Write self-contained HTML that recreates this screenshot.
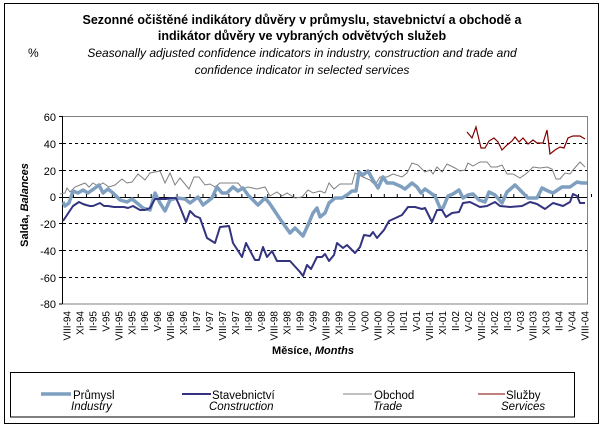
<!DOCTYPE html>
<html><head><meta charset="utf-8"><style>
html,body{margin:0;padding:0;background:#fff;width:604px;height:429px;overflow:hidden}
svg{display:block}
text{font-family:"Liberation Sans",Arial,sans-serif}
</style></head><body>
<svg width="604" height="429" viewBox="0 0 604 429" xmlns="http://www.w3.org/2000/svg">
<rect x="4.5" y="3.5" width="594" height="420" fill="#fff" stroke="#000" stroke-width="1"/>
<text x="302" y="24" text-anchor="middle" font-size="12.5" font-weight="bold">Sezonné očištěné indikátory důvěry v průmyslu, stavebnictví a obchodě a</text>
<text x="302" y="40" text-anchor="middle" font-size="12.5" font-weight="bold">indikátor důvěry ve vybraných odvětvých služeb</text>
<text x="28" y="57" font-size="12">%</text>
<text x="302" y="57" text-anchor="middle" font-size="12" font-style="italic">Seasonally adjusted confidence indicators in industry, construction and trade and</text>
<text x="302" y="74" text-anchor="middle" font-size="12" font-style="italic">confidence indicator in selected services</text>
<rect x="62.5" y="116.5" width="525" height="187.5" fill="none" stroke="#808080"/>
<g stroke="#000" stroke-dasharray="3,3" stroke-width="1">
<line x1="63" x2="587" y1="143.5" y2="143.5"/><line x1="63" x2="587" y1="170.5" y2="170.5"/>
<line x1="63" x2="587" y1="223.5" y2="223.5"/><line x1="63" x2="587" y1="250.5" y2="250.5"/><line x1="63" x2="587" y1="277.5" y2="277.5"/>
</g>
<line x1="62" x2="587" y1="197.5" y2="197.5" stroke="#000"/>
<line x1="62.5" x2="62.5" y1="116" y2="304" stroke="#000"/>
<g stroke="#000"><line x1="59" x2="62" y1="116.5" y2="116.5"/><line x1="59" x2="62" y1="143.5" y2="143.5"/><line x1="59" x2="62" y1="170.5" y2="170.5"/><line x1="59" x2="62" y1="197.5" y2="197.5"/><line x1="59" x2="62" y1="223.5" y2="223.5"/><line x1="59" x2="62" y1="250.5" y2="250.5"/><line x1="59" x2="62" y1="277.5" y2="277.5"/><line x1="59" x2="62" y1="304" y2="304"/></g>
<g font-size="11" text-anchor="end">
<text x="56" y="121">60</text><text x="56" y="148">40</text><text x="56" y="175">20</text><text x="56" y="201">0</text>
<text x="56" y="228">-20</text><text x="56" y="255">-40</text><text x="56" y="282">-60</text><text x="56" y="308">-80</text>
</g>
<text transform="translate(28,205) rotate(-90)" text-anchor="middle" font-size="11" font-weight="bold">Salda, <tspan font-style="italic">Balances</tspan></text>
<g id="ticks" stroke="#000"></g>
<g id="xl" font-size="10" text-anchor="end"></g>
<text x="313" y="354" text-anchor="middle" font-size="11" font-weight="bold">Měsíce, <tspan font-style="italic">Months</tspan></text>
<polyline fill="none" stroke="#808080" stroke-width="1" points="60,194 65,193 67,188 70,192 75,187 80,185 85,183 89,187 93,183 98,186 103,183 109,187 115,185 122,179 127,183 132,182 138,174 145,180 150,173 160,171 165,183 170,173 175,185 180,178 189,189 194,177 199,177 205,185 210,184 215,187 220,183 233,183 238,183 243,189 248,187 257,189 265,187 270,196 277,192 282,196 287,193 295,198 302,197 308,190 313,193 320,191 325,193 329,183 334,189 340,184 352,184 355,173 363,177 370,180 375,185 380,177 387,177 393,174 402,177 407,173 412,163 418,165 425,172 430,170 433,174 437,167 442,172 447,164 455,168 460,171 465,170 468,163 473,166 480,162 487,162 491,167 497,167 502,165 507,174 513,174 520,178 527,173 533,167 540,168 547,167 552,169 556,179 560,179 565,173 570,174 573,170 580,162 585,167"/>
<polyline fill="none" stroke="#7f9fc0" stroke-width="3.5" stroke-linejoin="round" points="63,202 65,206 69,203 73,191 78,193 83,190 88,193 95,188 99,185 103,193 108,189 113,193 120,200 127,202 132,199 137,203 143,208 150,210 155,193 160,203 165,211 170,200 177,198 185,199 190,203 198,197 203,205 212,198 217,187 222,193 227,193 233,187 238,191 243,188 248,195 254,201 258,205 265,198 270,204 280,219 290,233 295,228 303,236 308,225 313,213 317,208 320,217 325,213 329,203 335,198 342,198 347,195 352,191 356,191 359,172 363,175 368,171 373,180 378,188 383,177 387,183 393,183 400,186 405,189 412,183 417,187 421,193 425,189 432,194 435,196 440,208 443,208 448,196 453,194 459,190 463,198 468,195 473,194 479,200 485,202 489,192 495,195 502,203 507,192 515,185 520,190 528,198 537,198 542,188 548,191 553,193 562,187 570,187 577,182 582,183 587,183"/>
<polyline fill="none" stroke="#333380" stroke-width="2" stroke-linejoin="round" points="63,221 67,215 73,206 79,202 83,204 86,205 90,206 93,206 100,203 104,206 108,206 114,207 124,207 128,208 133,206 140,210 145,210 150,208 155,199 160,199 166,199 171,198 176,198 180,207 186,222 190,211 195,216 200,218 207,238 215,243 220,227 229,226 233,243 242,257 246,243 255,260 259,260 263,247 267,257 272,251 277,261 290,261 300,272 303,276 307,265 311,269 317,257 322,257 325,254 329,261 334,255 337,243 343,248 347,245 355,253 360,247 364,235 370,236 373,232 377,238 384,230 389,221 402,215 408,207 415,207 422,209 425,208 432,222 437,210 442,210 446,217 452,213 459,212 463,203 470,202 480,207 487,206 495,202 500,206 510,207 522,206 530,202 537,204 545,209 553,203 563,206 570,202 573,194 577,196 580,203 585,203"/>
<polyline fill="none" stroke="#800000" stroke-width="1.2" points="467,132 472,138 476,127 481,148 485,148 489,141 494,138 498,142 502,150 507,145 512,141 515,137 519,142 523,138 528,144 533,140 537,143 543,143 547,130 550,154 555,150 560,147 564,148 568,138 573,136 580,136 585,139"/>
<rect x="10.5" y="372.5" width="564" height="44.5" fill="#fff" stroke="#000"/>
<line x1="41" x2="71" y1="394" y2="394" stroke="#7f9fc0" stroke-width="3.5"/>
<line x1="182" x2="211" y1="394" y2="394" stroke="#333380" stroke-width="2"/>
<line x1="343" x2="372" y1="394" y2="394" stroke="#808080" stroke-width="1"/>
<line x1="478" x2="505" y1="394" y2="394" stroke="#800000" stroke-width="1"/>
<g font-size="11.5">
<text x="73" y="399">Průmysl</text><text x="71" y="410" font-style="italic">Industry</text>
<text x="212" y="399">Stavebnictví</text><text x="209" y="410" font-style="italic">Construction</text>
<text x="374" y="399">Obchod</text><text x="373" y="410" font-style="italic">Trade</text>
<text x="506" y="399">Služby</text><text x="501" y="410" font-style="italic">Services</text>
</g>
</svg>
<script>
var m=["VIII","XI","II","V"],xl=document.getElementById("xl"),tk=document.getElementById("ticks");
for(var k=0;k<=40;k++){var x=67+12.95*k;var mi=k%4;var yr=94+Math.floor((k+ (mi>=2?0:0))/4)+(mi>=2?1:0);
var y=(yr%100);var s=m[mi]+"-"+(y<10?"0"+y:y);
var t=document.createElementNS("http://www.w3.org/2000/svg","text");
t.setAttribute("transform","translate("+(x+3.5)+",311) rotate(-90)");t.textContent=s;xl.appendChild(t);
var l=document.createElementNS("http://www.w3.org/2000/svg","line");var tx=x+6.5;
l.setAttribute("x1",tx);l.setAttribute("x2",tx);l.setAttribute("y1",194);l.setAttribute("y2",197);tk.appendChild(l);}
</script>
</body></html>
